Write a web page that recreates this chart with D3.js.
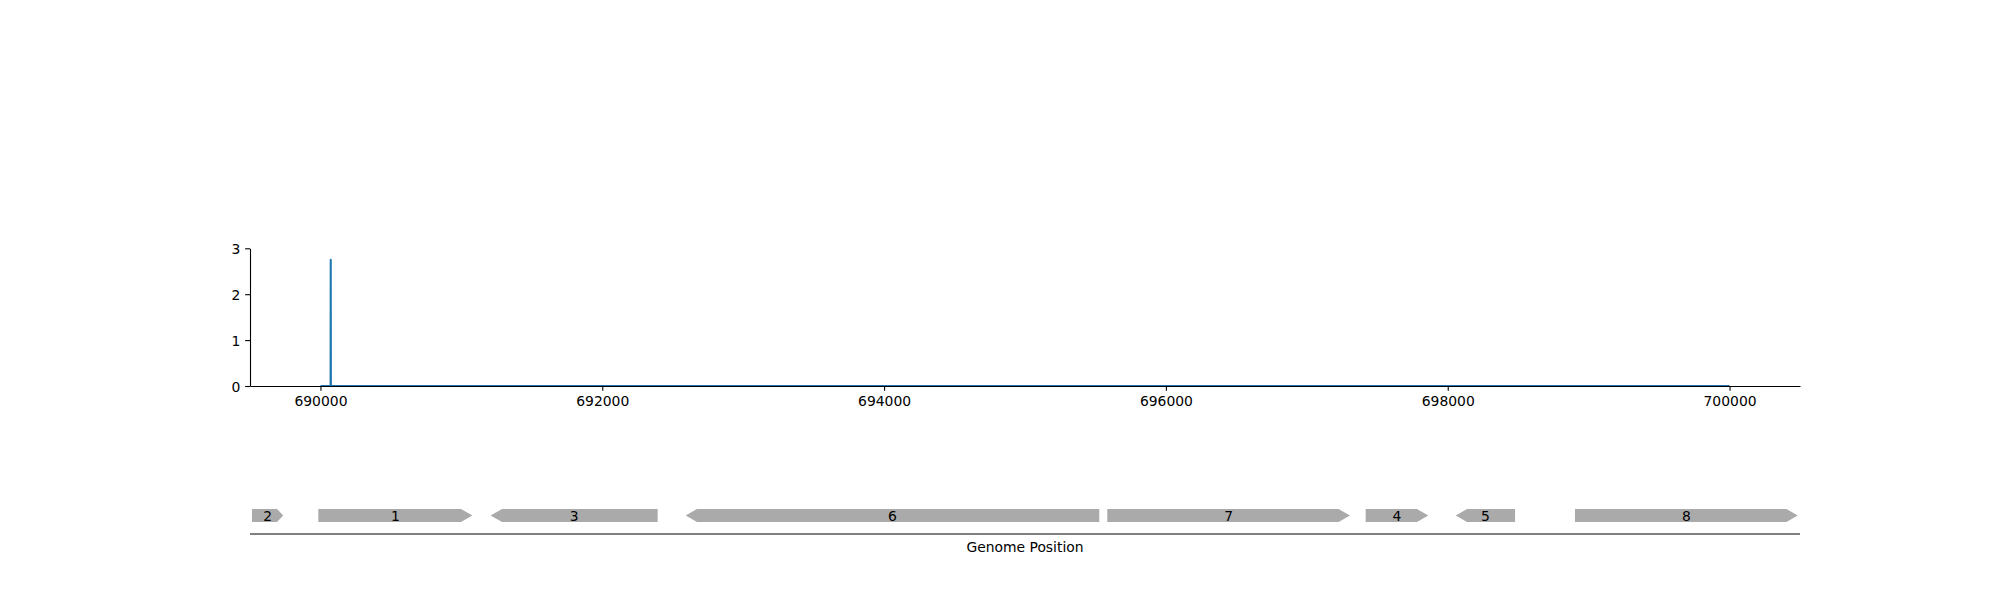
<!DOCTYPE html>
<html>
<head>
<meta charset="utf-8">
<script src="https://cdn.jsdelivr.net/npm/d3@7"></script>
<style>
  html, body { margin: 0; padding: 0; background: #ffffff; }
  svg { display: block; font-family: "DejaVu Sans", sans-serif; }
</style>
</head>
<body>
<svg id="chart" width="2000" height="600"></svg>
<script>
// ---- data ----
const coveragePositions = [690000, 690072, 690073, 690074, 700000];
const coverageValues    = [0, 0, 2.75, 0, 0];

const geneNames   = ["2", "1", "3", "6", "7", "4", "5", "8"];
const geneStarts  = [689514, 689985, 691208, 692592, 695584, 697418, 698057, 698903];
const geneEnds    = [689736, 691078, 692393, 695527, 697306, 697862, 698478, 700484];
const geneStrands = [1, 1, -1, -1, 1, 1, -1, 1];

const xDomain = [689500, 700500];
const yDomain = [0, 3];
const xTicks = [690000, 692000, 694000, 696000, 698000, 700000];
const yTicks = [0, 1, 2, 3];
const xLabel = "Genome Position";

// ---- layout ----
const svg = d3.select("#chart");
const left = 250, right = 1800;
const topY = 248.3, bottomY = 386;
const fontSize = 13.9;
const tickLen = 4.86;

const x = d3.scaleLinear().domain(xDomain).range([left, right]);
const y = d3.scaleLinear().domain(yDomain).range([bottomY, topY]);

// coverage line
const pts = coveragePositions.map((p, i) => [p, coverageValues[i]]);
svg.append("path")
  .datum(pts)
  .attr("fill", "none")
  .attr("stroke", "#1f77b4")
  .attr("stroke-width", 2.08)
  .attr("stroke-linejoin", "round")
  .attr("d", d3.line().x(d => x(d[0])).y(d => y(d[1])));

// x axis (top panel)
const xAxis = svg.append("g")
  .attr("transform", `translate(0,${bottomY})`)
  .call(d3.axisBottom(x).tickValues(xTicks).tickFormat(d3.format("d"))
        .tickSize(tickLen).tickSizeOuter(0).tickPadding(5.3));
xAxis.select(".domain").attr("stroke", "#000").attr("stroke-width", 1.1);
xAxis.selectAll(".tick line").attr("stroke", "#000").attr("stroke-width", 1.1);
xAxis.selectAll("text").attr("font-size", fontSize).attr("font-family", "DejaVu Sans").attr("fill", "#000");

// y axis
const yAxis = svg.append("g")
  .attr("transform", `translate(${left},0)`)
  .call(d3.axisLeft(y).tickValues(yTicks).tickFormat(d3.format("d"))
        .tickSize(tickLen).tickSizeOuter(0).tickPadding(4.86));
yAxis.select(".domain").attr("stroke", "#000").attr("stroke-width", 1.1);
yAxis.selectAll(".tick line").attr("stroke", "#000").attr("stroke-width", 1.1);
yAxis.selectAll("text").attr("font-size", fontSize).attr("font-family", "DejaVu Sans")
  .attr("fill", "#000").attr("dy", "0.36em");

// ---- gene track ----
const trackCenter = 515.5, trackHalf = 6.5;
const genes = geneNames.map((n, i) => ({name: n, start: geneStarts[i], end: geneEnds[i], strand: geneStrands[i]}));

function arrowPath(g) {
  const x0 = x(g.start), x1 = x(g.end);
  const w = x1 - x0;
  const head = Math.min(11.3, w * 0.2);
  const t = trackCenter - trackHalf, b = trackCenter + trackHalf;
  if (g.strand > 0) {
    return `M${x0},${t}L${x1 - head},${t}L${x1},${trackCenter}L${x1 - head},${b}L${x0},${b}Z`;
  } else {
    return `M${x1},${t}L${x0 + head},${t}L${x0},${trackCenter}L${x0 + head},${b}L${x1},${b}Z`;
  }
}

const gg = svg.append("g");
gg.selectAll("path.gene").data(genes).enter().append("path")
  .attr("class", "gene")
  .attr("d", arrowPath)
  .attr("fill", "#aaaaaa")
  .attr("stroke", "none");

gg.selectAll("text.gene").data(genes).enter().append("text")
  .attr("class", "gene")
  .attr("x", d => (x(d.start) + x(d.end)) / 2)
  .attr("y", trackCenter + 5.05)
  .attr("text-anchor", "middle")
  .attr("font-size", fontSize)
  .attr("fill", "#000")
  .text(d => d.name);

// gene track bottom spine
const spineY = 534;
svg.append("line")
  .attr("x1", x.range()[0]).attr("x2", x.range()[1])
  .attr("y1", spineY).attr("y2", spineY)
  .attr("stroke", "#000").attr("stroke-width", 1.1);

svg.append("text")
  .attr("x", (x.range()[0] + x.range()[1]) / 2)
  .attr("y", 551.7)
  .attr("text-anchor", "middle")
  .attr("font-size", fontSize)
  .attr("fill", "#000")
  .text(xLabel);
</script>
</body>
</html>
